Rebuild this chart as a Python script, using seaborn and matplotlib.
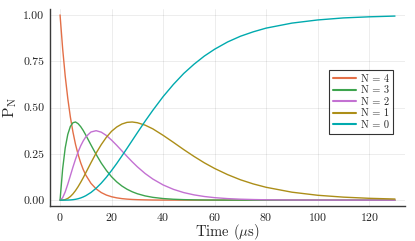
import pandas as pd
import numpy as np
import matplotlib
matplotlib.use("Agg")
import matplotlib.pyplot as plt
import matplotlib.ticker as mticker
import seaborn as sns

# Time axis (µs) and populations
time = [0, 1, 2, 3, 4, 5, 6, 7, 8, 9, 10, 12, 14, 16, 18, 20, 22, 24, 26, 28, 30,
        33, 36, 40, 44, 48, 52, 56, 60, 65, 70, 75, 80, 90, 100, 110, 120, 130]

p4 = [1.000, 0.819, 0.670, 0.549, 0.449, 0.368, 0.301, 0.247, 0.202, 0.165, 0.135,
      0.0907, 0.0608, 0.0408, 0.0273, 0.0183, 0.0123, 0.0082, 0.0055, 0.0037, 0.0025,
      0.0014, 0.0007, 0.0003, 0.0002, 0.0001, 0.0, 0.0, 0.0, 0.0, 0.0, 0.0, 0.0,
      0.0, 0.0, 0.0, 0.0, 0.0]
p3 = [0.000, 0.168, 0.282, 0.355, 0.398, 0.418, 0.422, 0.413, 0.397, 0.376, 0.351,
      0.298, 0.247, 0.200, 0.160, 0.126, 0.0985, 0.0763, 0.0588, 0.0452, 0.0345,
      0.0229, 0.0151, 0.0086, 0.0048, 0.0027, 0.0015, 0.0008, 0.0005, 0.0002, 0.0001,
      0.0, 0.0, 0.0, 0.0, 0.0, 0.0, 0.0]
p2 = [0.000, 0.0129, 0.0445, 0.0862, 0.132, 0.178, 0.221, 0.260, 0.293, 0.320, 0.342,
      0.368, 0.375, 0.367, 0.349, 0.324, 0.296, 0.266, 0.236, 0.207, 0.180,
      0.144, 0.114, 0.0821, 0.0583, 0.0408, 0.0284, 0.0196, 0.0134, 0.0083, 0.0051,
      0.0032, 0.0019, 0.0007, 0.0003, 0.0001, 0.0, 0.0]
p1 = [0.000, 0.0004, 0.0031, 0.0093, 0.0195, 0.0337, 0.0516, 0.0726, 0.0961, 0.121, 0.148,
      0.202, 0.254, 0.300, 0.340, 0.372, 0.395, 0.411, 0.420, 0.422, 0.418,
      0.405, 0.385, 0.350, 0.312, 0.273, 0.236, 0.2015, 0.171, 0.138, 0.110,
      0.0875, 0.0693, 0.0429, 0.0263, 0.0162, 0.0099, 0.0060]
p0 = [0.000, 0.0, 0.0001, 0.0004, 0.0011, 0.0024, 0.0045, 0.0076, 0.0118, 0.0173, 0.0240,
      0.0414, 0.0642, 0.0920, 0.124, 0.160, 0.198, 0.2385, 0.280, 0.322, 0.364,
      0.426, 0.485, 0.559, 0.625, 0.684, 0.734, 0.778, 0.815, 0.854, 0.885,
      0.909, 0.929, 0.956, 0.973, 0.984, 0.990, 0.994]

labels = ["N = 4", "N = 3", "N = 2", "N = 1", "N = 0"]
colors = ["#E36F47", "#3EA44E", "#C371D2", "#AC8E18", "#00AAAE"]

frames = []
for lab, vals in zip(labels, [p4, p3, p2, p1, p0]):
    frames.append(pd.DataFrame({"Time": time, "P": vals, "label": lab}))
df = pd.concat(frames, ignore_index=True)

sns.set_style("white")
plt.rcParams['font.family'] = ['cmr10', 'DejaVu Serif']
plt.rcParams['mathtext.fontset'] = 'cm'
plt.rcParams['axes.formatter.use_mathtext'] = True

fig = plt.figure(figsize=(4.15, 2.41), dpi=100)
ax = fig.add_axes([0.1205, 0.1465, 0.8555, 0.8145])

sns.lineplot(data=df, x="Time", y="P", hue="label", hue_order=labels,
             palette=colors, estimator=None, linewidth=1.0, ax=ax)

ax.set_xlim(-3.9, 133.9)
ax.set_ylim(-0.03, 1.03)
ax.set_xticks([0, 20, 40, 60, 80, 100, 120])
ax.set_yticks([0.0, 0.25, 0.5, 0.75, 1.0])
ax.yaxis.set_major_formatter(mticker.FormatStrFormatter('%.2f'))
ax.grid(True, color='black', alpha=0.1, linewidth=0.5)

for side in ['top', 'right']:
    ax.spines[side].set_visible(False)
for side in ['left', 'bottom']:
    ax.spines[side].set_color('#3a3a3a')
    ax.spines[side].set_linewidth(1.0)

ax.tick_params(direction='in', length=2.5, width=0.9, color='#3a3a3a',
               labelsize=8.5, pad=4, labelcolor='#222222')

ax.set_xlabel(r'Time ($\mu$s)', fontsize=10.5, labelpad=-1)
ax.set_ylabel(r'$\mathrm{P}_\mathrm{N}$', fontsize=11, labelpad=3)

leg = ax.legend(loc='upper right', bbox_to_anchor=(0.966, 0.691), borderaxespad=0,
                fontsize=7.5, frameon=True, fancybox=False, handlelength=2.2,
                handletextpad=0.45, labelspacing=0.2, borderpad=0.4)
leg.get_frame().set_edgecolor('black')
leg.get_frame().set_linewidth(0.8)
for line in leg.get_lines():
    line.set_linewidth(1.5)

fig.savefig("out.png", dpi=100)
